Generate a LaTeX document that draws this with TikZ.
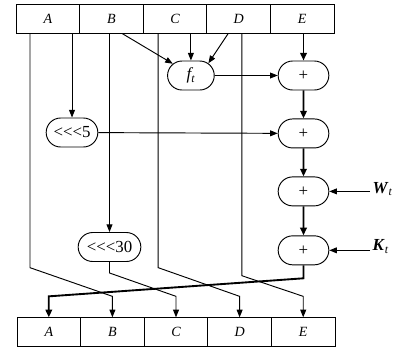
\documentclass[tikz,border=0pt]{standalone}
\usepackage{fontspec}
\setmainfont{Liberation Serif}
\usetikzlibrary{arrows.meta,positioning,calc,shapes.misc}

\begin{document}
\begin{tikzpicture}[
    x=0.03cm,y=-0.03cm,
    node distance=0.84cm and 1.89cm,
    cell/.style={draw,line width=0.8pt,minimum width=1.908cm,minimum height=0.88cm,inner sep=0pt,outer sep=0pt,font=\large\itshape},
    op/.style={draw,line width=0.8pt,rounded rectangle,minimum width=1.59cm,minimum height=0.87cm,inner sep=1pt,font=\Large},
    arr/.style={-{Triangle[length=6.5pt,width=5pt]},line width=0.8pt},
    thickarr/.style={-{Triangle[length=6.5pt,width=5.5pt]},line width=1.6pt}
  ]
    \useasboundingbox (0,0) rectangle (404,353);

    % registers before the round
    \node[cell] at (47.8,19) (tA) {A};
    \node[cell,right=0pt of tA] (tB) {B};
    \node[cell,right=0pt of tB] (tC) {C};
    \node[cell,right=0pt of tC] (tD) {D};
    \node[cell,right=0pt of tD] (tE) {E};

    % registers after the round
    \node[cell] at (48.8,332) (bA) {A};
    \node[cell,right=0pt of bA] (bB) {B};
    \node[cell,right=0pt of bB] (bC) {C};
    \node[cell,right=0pt of bC] (bD) {D};
    \node[cell,right=0pt of bD] (bE) {E};

    % adders and functions
    \node[op] at (303.5,75.5) (p1) {+};
    \node[op,below=of p1] (p2) {+};
    \node[op,below=of p2] (p3) {+};
    \node[op,below=0.87cm of p3] (p4) {+};
    \node[op,minimum width=1.47cm,left=of p1] (ft) {\textit{f\textsubscript{t}}};
    \node[op,minimum width=1.62cm] at (72,132.5) (rot5) {<{}<{}<5};
    \node[op,minimum width=1.95cm] at (109.5,247) (rot30) {<{}<{}<30};
    \node[anchor=west,inner sep=2pt,font=\Large] at (370,189) (wt) {\textbf{\textit{W}}\textsubscript{\textit{t}}};
    \node[anchor=west,inner sep=2pt,font=\Large] at (370,246.5) (kt) {\textbf{\textit{K}}\textsubscript{\textit{t}}};

    \draw[arr] (rot5.north |- tA.south) -- (rot5.north);
    \draw[arr] (rot30.north |- tB.south) -- (rot30.north);
    \draw[arr] ($(tB.south)+(11,0)$) -- (ft.147);
    \draw[arr] (ft.north |- tC.south) -- (ft.north);
    \draw[arr] ($(tD.south)+(-10.5,0)$) -- (ft.35);
    \draw[arr] (ft) -- (p1);
    \draw[arr] (rot5) -- (p2);
    \draw[arr] (wt.west |- p3) -- (p3.east);
    \draw[arr] (kt.west |- p4) -- (p4.east);

    % passing lines
    \draw[arr] ($(tA.south west)+(14,0)$) -- ++(0,234) -- ($(bB.north)+(0,-21)$) -- (bB.north);
    \draw[arr] ($(tC.south west)+(15,0)$) -- ++(0,234) -- ($(bD.north)+(0,-21)$) -- (bD.north);
    \draw[arr] ($(tD.south west)+(35,0)$) -- ++(0,242) -- ($(bE.north)+(0,-21)$) -- (bE.north);
    \draw[arr] (rot30.south) -- ++(0,11) -- ($(bC.north)+(0,-21)$) -- (bC.north);

    % main chain
    \draw[thickarr] (p1.north |- tE.south) -- (p1.north);
    \draw[thickarr] (p1) -- (p2);
    \draw[thickarr] (p2) -- (p3);
    \draw[thickarr] (p3) -- (p4);
    \draw[thickarr] (p4.south) -- ++(0,13) -- ($(bA.north)+(0,-21)$) -- (bA.north);
  \end{tikzpicture}
\end{document}
